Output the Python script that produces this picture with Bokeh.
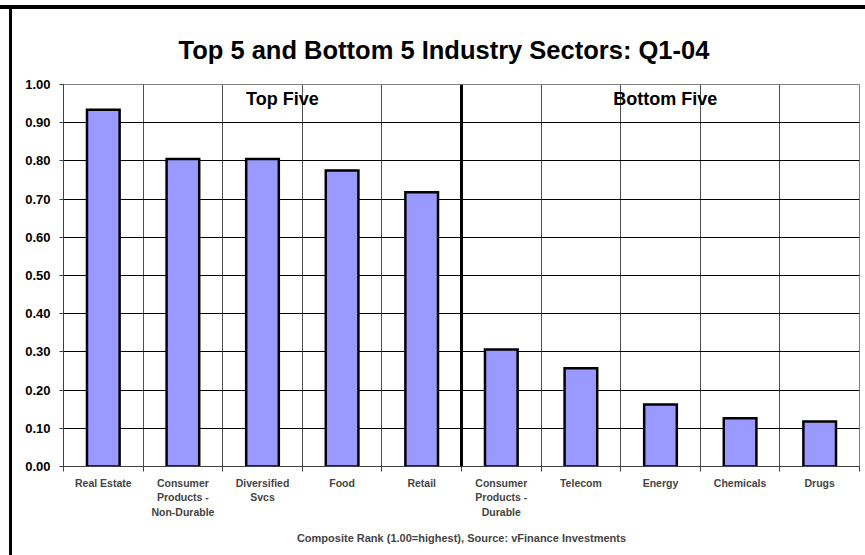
from bokeh.plotting import figure
from bokeh.models import FixedTicker, Span, Label, NumeralTickFormatter, Range1d, Title
from bokeh.embed import file_html
from bokeh.resources import INLINE

# ---- data ----
categories = ["Real Estate", "Consumer\nProducts -\nNon-Durable", "Diversified\nSvcs", "Food", "Retail",
              "Consumer\nProducts -\nDurable", "Telecom", "Energy", "Chemicals", "Drugs"]
values = [0.934, 0.805, 0.805, 0.775, 0.718, 0.306, 0.257, 0.162, 0.126, 0.118]
y_ticks = [0.0, 0.1, 0.2, 0.3, 0.4, 0.5, 0.6, 0.7, 0.8, 0.9, 1.0]
group_labels = ["Top Five", "Bottom Five"]
title_text = "Top 5 and Bottom 5 Industry Sectors: Q1-04"
x_title = "Composite Rank (1.00=highest), Source: vFinance Investments"

FONT = "Liberation Sans"
n = len(categories)
xs = [i + 0.5 for i in range(n)]
bounds = list(range(n + 1))

frame_css = ("linear-gradient(#000,#000) 0px 5px / 100% 4px no-repeat, "
             "linear-gradient(#000,#000) 9px 5px / 3px 100% no-repeat, #ffffff")

p = figure(frame_width=796, frame_height=382,
           x_range=Range1d(0, n), y_range=Range1d(0, 1),
           output_backend="svg", toolbar_location=None,
           min_border_left=63, min_border_right=6, min_border_top=84, min_border_bottom=89,
           background_fill_color="white", border_fill_color=None,
           styles={"background": frame_css})

t = Title(text=title_text, align="left", offset=115, standoff=42,
          text_font=FONT, text_font_style="bold", text_font_size="25.5px", text_color="black")
p.add_layout(t, "above")

p.vbar(x=xs, top=values, width=0.41, fill_color="#9999FF", line_color="black",
       line_width=2.5, line_join="miter")

# grids
p.ygrid.ticker = FixedTicker(ticks=y_ticks)
p.ygrid.grid_line_color = "black"
p.ygrid.grid_line_width = 1
p.xgrid.ticker = FixedTicker(ticks=bounds)
p.xgrid.grid_line_color = "#505050"
p.xgrid.grid_line_width = 1
p.outline_line_color = "#808080"
p.outline_line_width = 1

# y axis
ya = p.yaxis[0]
ya.ticker = FixedTicker(ticks=y_ticks)
ya.formatter = NumeralTickFormatter(format="0.00")
ya.major_label_text_font = FONT
ya.major_label_text_font_style = "bold"
ya.major_label_text_font_size = "13px"
ya.major_label_text_color = "black"
ya.major_tick_out = 4
ya.major_tick_in = 0
ya.minor_tick_line_color = None
ya.axis_line_color = "#404040"
ya.major_tick_line_color = "#404040"
ya.major_label_standoff = 9

# x axis
xa = p.xaxis[0]
xa.ticker = FixedTicker(ticks=xs, minor_ticks=bounds)
xa.major_label_overrides = {xv: c for xv, c in zip(xs, categories)}
xa.major_tick_line_color = None
xa.major_tick_out = 0
xa.major_tick_in = 0
xa.minor_tick_out = 5
xa.minor_tick_in = 0
xa.minor_tick_line_color = "#404040"
xa.axis_line_color = "#404040"
xa.major_label_text_font = FONT
xa.major_label_text_font_style = "bold"
xa.major_label_text_font_size = "10.5px"
xa.major_label_text_line_height = 1.23
xa.major_label_standoff = 5
xa.axis_label = x_title
xa.axis_label_text_font = FONT
xa.axis_label_text_font_style = "bold"
xa.axis_label_text_font_size = "11px"
xa.axis_label_standoff = 11

# divider between top and bottom groups
p.add_layout(Span(location=5, dimension="height", line_color="black", line_width=3))

# group labels
p.add_layout(Label(x=2.75, y=0.961, text=group_labels[0], text_align="center", text_baseline="middle",
                   text_font=FONT, text_font_style="bold", text_font_size="18px", text_color="black"))
p.add_layout(Label(x=7.56, y=0.961, text=group_labels[1], text_align="center", text_baseline="middle",
                   text_font=FONT, text_font_style="bold", text_font_size="18px", text_color="black"))

open("out.html", "w").write(file_html(p, INLINE))
